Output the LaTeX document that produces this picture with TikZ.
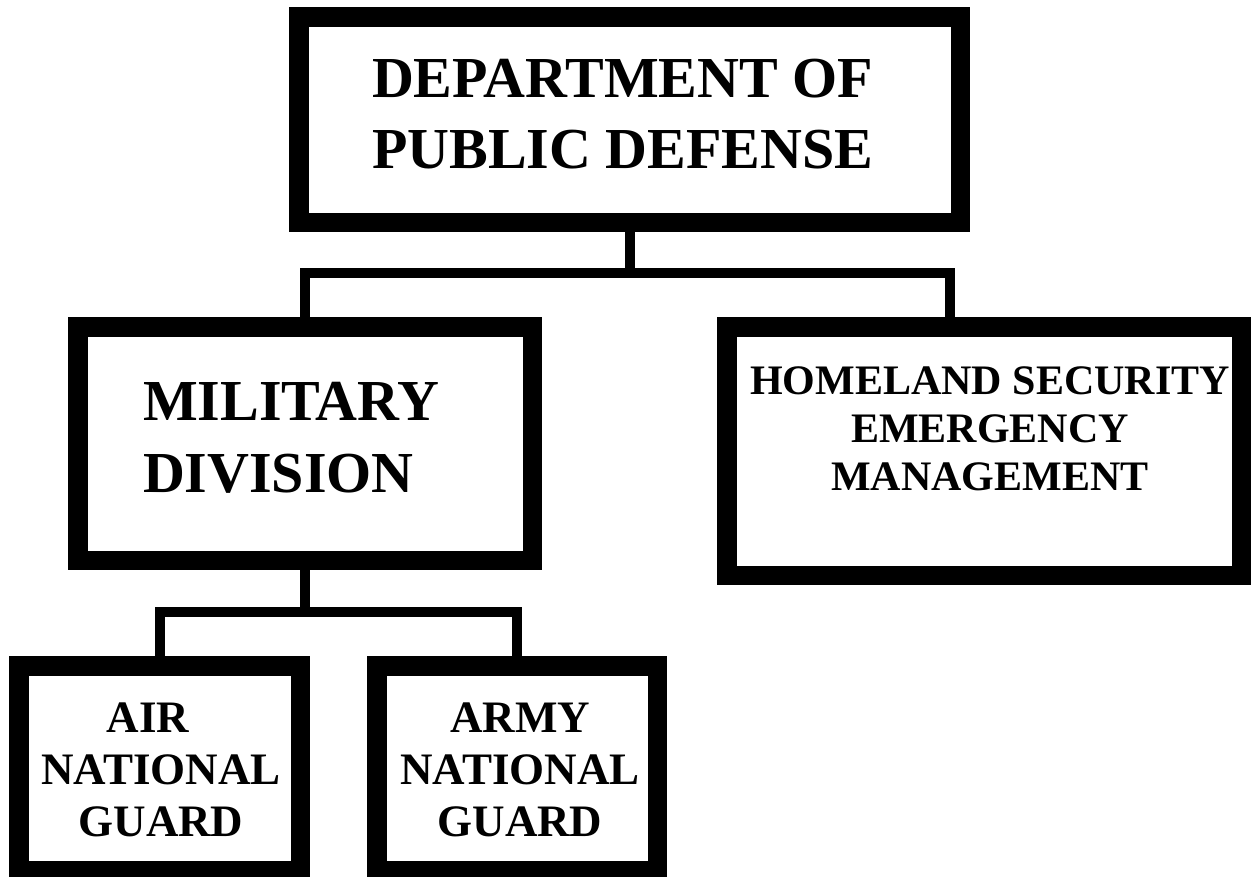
\documentclass[tikz,border=0pt]{standalone}
\usepackage{fontspec}
\setmainfont{Liberation Serif}
\begin{document}
\begin{tikzpicture}[x=1pt,y=-1pt,
  box/.style={draw=black, line width=19.5pt, fill=white, inner sep=0pt, outer sep=0pt},
  conn/.style={draw=black, line width=10pt, line join=miter},
  lbl/.style={inner sep=0pt, outer sep=0pt, font=\bfseries}]
\useasboundingbox (0,0) rectangle (1251,876);
\fill[white] (0,0) rectangle (1251,876);
% boxes
\node[box, minimum width=661.5pt, minimum height=205.5pt] (top) at (629.5,119.5) {};
\node[box, minimum width=454.5pt, minimum height=233.5pt] (mil) at (305,443.5) {};
\node[box, minimum width=514.5pt, minimum height=248.5pt] (hsem) at (984,451) {};
\node[box, minimum width=281.5pt, minimum height=204.5pt] (air) at (159.5,768) {};
\node[box, minimum width=280.5pt, minimum height=204.5pt] (army) at (517,768) {};
% connectors
\coordinate (hub1) at (629.5,272.5);
\coordinate (hsemtap) at (950,322);
\coordinate (hub2) at (305,612);
\draw[conn] (top.south) -- (hub1);
\draw[conn] (mil.north) |- (hub1) -| (hsemtap);
\draw[conn] (mil.south) -- (hub2);
\draw[conn] (air.north) |- (hub2) -| (army.north);
% labels
\node[lbl, anchor=north west, align=left, font=\bfseries\fontsize{58pt}{71pt}\selectfont] (toptext) at (372,59) {DEPARTMENT OF\\PUBLIC DEFENSE};
\node[lbl, anchor=north west, align=left, font=\bfseries\fontsize{58pt}{72pt}\selectfont] (miltext) at (143,382) {MILITARY\\DIVISION};
\node[lbl, anchor=north, align=center, font=\bfseries\fontsize{42pt}{48pt}\selectfont] (hsemtext) at (990,367) {HOMELAND SECURITY\\EMERGENCY\\MANAGEMENT};
\node[lbl, anchor=north, align=center, font=\bfseries\fontsize{45pt}{52pt}\selectfont] (airtext) at (161,703) {AIR\kern26pt\\NATIONAL\\GUARD};
\node[lbl, anchor=north, align=center, font=\bfseries\fontsize{45pt}{52pt}\selectfont] (armytext) at (520,703) {ARMY\\NATIONAL\\GUARD};
\end{tikzpicture}
\end{document}
